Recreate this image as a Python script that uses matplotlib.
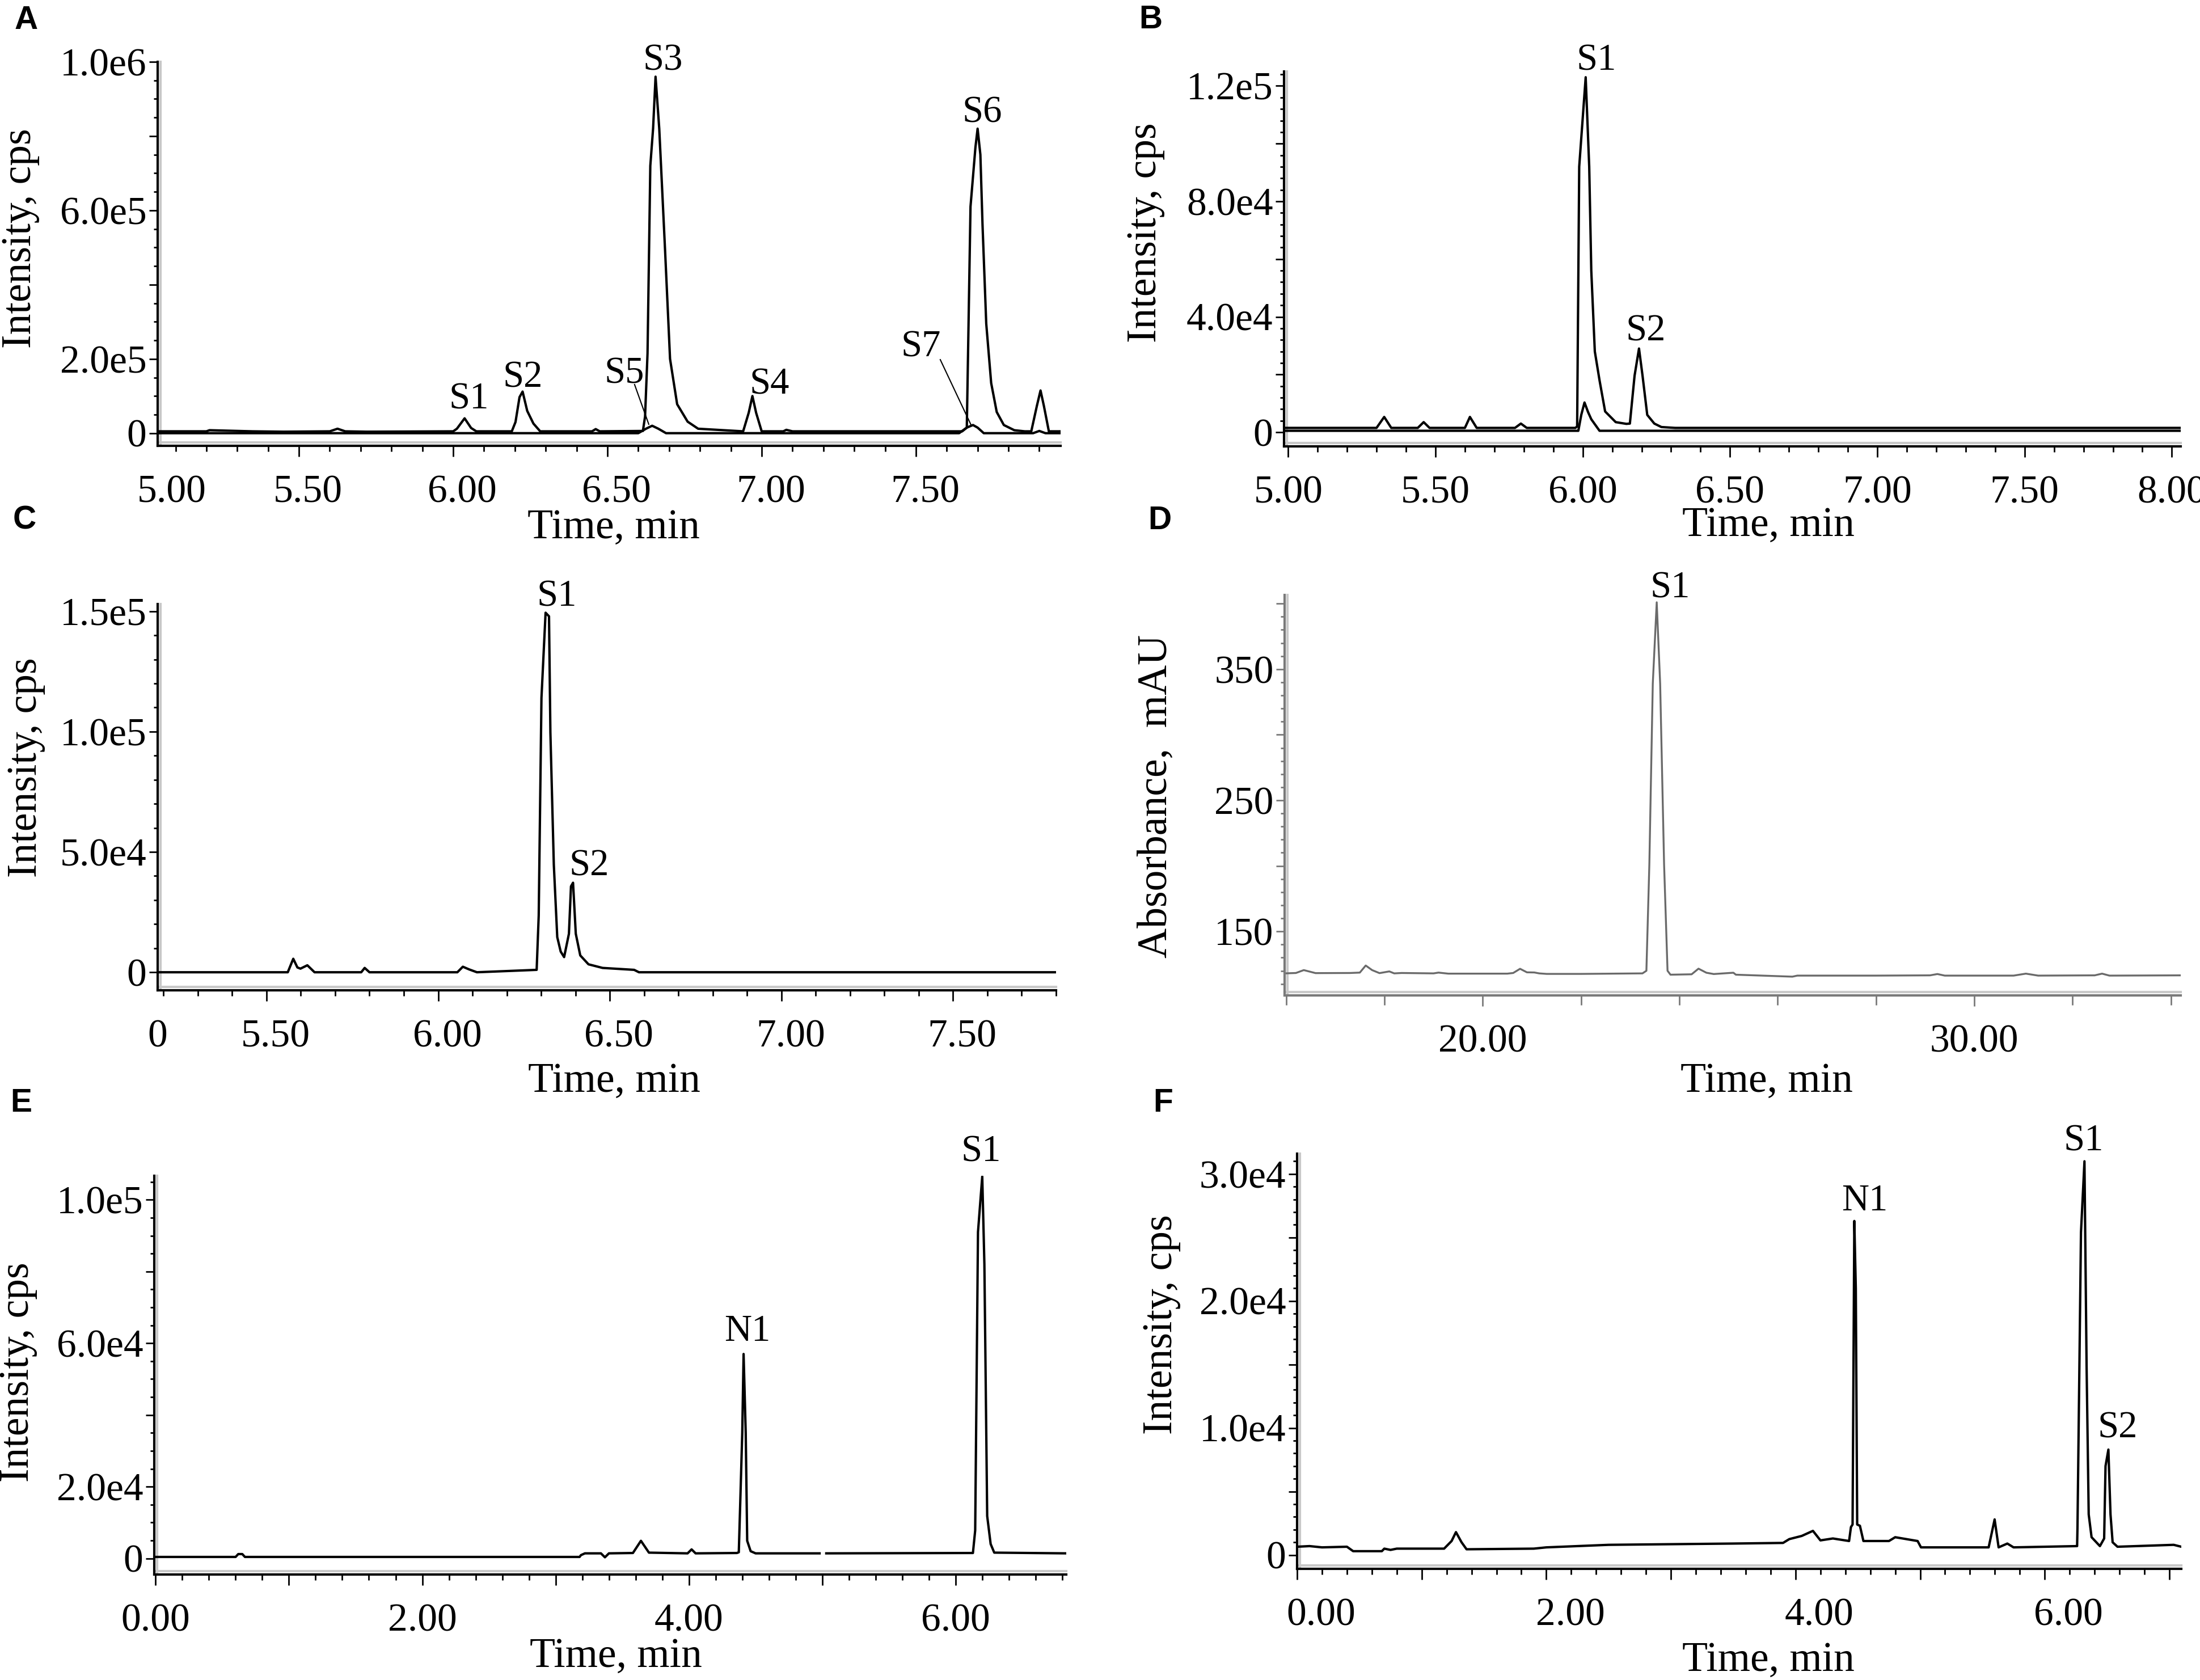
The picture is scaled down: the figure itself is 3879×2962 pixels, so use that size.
import numpy as np
import matplotlib
matplotlib.use("Agg")
import matplotlib.pyplot as plt
import matplotlib.transforms as transforms

plt.rcParams['font.family'] = ['Liberation Serif', 'DejaVu Serif']

# ---- panel A: MRM traces, 5.0-8.0 min ----
a_time = [5.042, 5.20, 5.21, 5.35, 5.45, 5.60, 5.625, 5.65, 5.72, 6.00, 6.012, 6.037, 6.058, 6.075,
          6.19, 6.202, 6.215, 6.225, 6.24, 6.26, 6.282, 6.45, 6.462, 6.475, 6.615, 6.622, 6.63,
          6.639, 6.648, 6.656, 6.668, 6.687, 6.703, 6.726, 6.76, 6.794, 6.94, 6.958, 6.97, 6.982,
          7.0, 7.07, 7.08, 7.10, 7.65, 7.665, 7.677, 7.693, 7.70, 7.709, 7.716, 7.728, 7.744,
          7.762, 7.785, 7.819, 7.853, 7.874, 7.892, 7.904, 7.915, 7.931, 7.969]
a_int = [5e3, 5e3, 8e3, 5e3, 4e3, 5e3, 12e3, 5e3, 4e3, 5e3, 12e3, 40e3, 14e3, 5e3,
         5e3, 30e3, 97e3, 112e3, 60e3, 26e3, 5e3, 5e3, 11e3, 5e3, 6e3, 45e3, 215e3,
         720e3, 820e3, 960e3, 820e3, 490e3, 200e3, 78e3, 31e3, 12e3, 5e3, 55e3, 100e3, 55e3,
         5e3, 5e3, 9e3, 5e3, 5e3, 15e3, 610e3, 770e3, 820e3, 750e3, 560e3, 295e3, 135e3,
         57e3, 22e3, 8e3, 5e3, 5e3, 73e3, 115e3, 73e3, 5e3, 5e3]
a2_time = [5.042, 6.60, 6.625, 6.645, 6.665, 6.69, 7.64, 7.665, 7.685, 7.70, 7.72, 7.88, 7.90, 7.92, 7.969]
a2_int = [0, 0, 12e3, 20e3, 12e3, 0, 0, 15e3, 22e3, 15e3, 0, 0, 6e3, 0, 0]

# ---- panel B ----
b_time = [4.986, 5.30, 5.326, 5.35, 5.44, 5.46, 5.48, 5.60, 5.617, 5.64, 5.77, 5.79, 5.81,
          5.975, 5.981, 5.988, 6.01, 6.022, 6.029, 6.041, 6.057, 6.076, 6.112, 6.148, 6.160,
          6.176, 6.191, 6.203, 6.219, 6.243, 6.267, 6.314, 8.03]
b_int = [1500, 1500, 5300, 1500, 1500, 3500, 1500, 1500, 5300, 1500, 1500, 3000, 1500,
         1500, 2000, 92000, 123000, 92000, 56000, 28000, 18000, 7200, 3500, 2900, 3000,
         19600, 29000, 19600, 6000, 3000, 1800, 1500, 1500]
b2_time = [4.986, 5.985, 5.995, 6.006, 6.018, 6.029, 6.057, 8.03]
b2_int = [500, 500, 6000, 10300, 7000, 4500, 500, 500]

# ---- panel C ----
c_time = [5.183, 5.562, 5.578, 5.59, 5.599, 5.619, 5.64, 5.776, 5.786, 5.80, 6.056, 6.072, 6.09,
          6.113, 6.287, 6.293, 6.301, 6.313, 6.323, 6.327, 6.337, 6.347, 6.357, 6.367, 6.381,
          6.387, 6.393, 6.401, 6.414, 6.438, 6.479, 6.571, 6.585, 7.80]
c_int = [0, 0, 5600, 2000, 1500, 2900, 0, 0, 1800, 0, 0, 2300, 1200,
         0, 1000, 23600, 114000, 149400, 147900, 99700, 44700, 14600, 8600, 6300, 16000,
         35700, 37200, 16000, 7000, 3300, 1800, 1000, 0, 0]

# ---- panel D: UV trace ----
d_time = [15.97, 16.2, 16.36, 16.6, 17.3, 17.5, 17.62, 17.75, 17.9, 18.1, 18.2, 18.35, 19.0,
          19.1, 19.3, 20.5, 20.62, 20.76, 20.9, 21.05, 21.15, 21.3, 22.0, 23.25, 23.33, 23.39,
          23.46, 23.54, 23.61, 23.69, 23.76, 23.82, 24.25, 24.39, 24.55, 24.7, 25.1, 25.15,
          26.3, 26.4, 28.0, 29.1, 29.25, 29.4, 30.8, 31.05, 31.3, 32.45, 32.6, 32.75, 34.2]
d_abs = [118.0, 118.3, 120.5, 118.2, 118.3, 118.6, 124.0, 120.5, 118.2, 119.5, 118.0, 118.3, 118.0,
         118.6, 117.8, 117.8, 118.3, 121.5, 118.8, 118.7, 118.0, 117.6, 117.6, 118.0, 120.0, 201.0,
         339.0, 401.0, 339.0, 201.0, 120.0, 117.0, 117.3, 121.6, 118.5, 117.5, 118.5, 117.0,
         115.5, 116.3, 116.3, 116.5, 117.5, 116.3, 116.3, 117.8, 116.3, 116.5, 117.8, 116.3, 116.5]

# ---- panel E ----
e_time = [-0.01, 0.60, 0.62, 0.65, 0.67, 3.18, 3.19, 3.22, 3.34, 3.37, 3.40, 3.58, 3.64, 3.70,
          3.99, 4.02, 4.05, 4.36, 4.374, 4.384, 4.40, 4.41, 4.426, 4.437, 4.463, 4.50, 4.98,
          np.nan, 5.03, 6.13, 6.147, 6.168, 6.20, 6.216, 6.237, 6.263, 6.29, 6.83]
e_int = [400, 400, 1200, 1200, 400, 400, 900, 1400, 1400, 300, 1400, 1500, 4900, 1600,
         1400, 2500, 1400, 1500, 1700, 14400, 35000, 57000, 35000, 4900, 2000, 1400, 1400,
         np.nan, 1400, 1500, 7800, 91000, 106500, 82000, 11800, 4000, 1600, 1400]

# ---- panel F ----
f_time = [0.0, 0.1, 0.2, 0.40, 0.45, 0.68, 0.70, 0.75, 0.80, 1.18, 1.24, 1.275, 1.32, 1.36,
          1.9, 2.0, 2.5, 3.0, 3.5, 3.9, 3.95, 4.05, 4.14, 4.2, 4.30, 4.43, 4.445, 4.458, 4.472,
          4.484, 4.495, 4.517, 4.545, 4.75, 4.80, 4.98, 5.007, 5.55, 5.598, 5.63, 5.70, 5.75,
          6.26, 6.263, 6.291, 6.319, 6.336, 6.353, 6.376, 6.443, 6.477, 6.488, 6.511, 6.528,
          6.545, 6.584, 7.035, 7.096]
f_int = [650, 700, 600, 650, 300, 300, 500, 400, 500, 500, 1100, 1800, 1000, 450,
         500, 600, 800, 850, 900, 950, 1250, 1500, 1900, 1150, 1300, 1100, 2200, 2400, 26300,
         21000, 2400, 2300, 1100, 1100, 1400, 1100, 600, 600, 2800, 600, 900, 600,
         700, 2200, 25400, 31000, 14900, 3200, 1400, 700, 1300, 7000, 8300, 3200,
         1000, 650, 800, 650]

# peak names with (time, value) of the label centre
a_labels = [("S1", 6.050, 92e3), ("S2", 6.226, 150e3), ("S5", 6.555, 160e3), ("S3", 6.680, 1.003e6),
            ("S4", 7.026, 131e3), ("S7", 7.517, 232e3), ("S6", 7.715, 863e3)]
a_leaders = [((6.588, 131e3), (6.634, 24e3)), ((7.579, 198e3), (7.680, 20e3))]
b_labels = [("S1", 6.046, 128.7e3), ("S2", 6.214, 35e3)]
c_labels = [("S1", 6.345, 156e3), ("S2", 6.44, 44e3)]
d_labels = [("S1", 23.81, 412)]
e_labels = [("N1", 4.437, 63.3e3), ("S1", 6.19, 113.3e3)]
f_labels = [("N1", 4.556, 27.85e3), ("S1", 6.313, 32.6e3), ("S2", 6.586, 10.0e3)]

W, H = 3880, 2962
fig = plt.figure(figsize=(W / 100, H / 100), dpi=100)


def make_axes(left, right, top, bottom):
    return fig.add_axes([left / W, 1 - bottom / H, (right - left) / W, (bottom - top) / H])


def style(ax, xlim, ylim, xmaj, xlab, xmin, ymaj, ylab, ymin, ylabel, lx, ly, tx, ty, col='black'):
    ax.set_xticks(xmaj, labels=xlab)
    ax.set_xticks(xmin, minor=True)
    ax.set_yticks(ymaj, labels=ylab)
    ax.set_yticks(ymin, minor=True)
    ax.set_xlim(*xlim)
    ax.set_ylim(*ylim)
    for s in ['top', 'right']:
        ax.spines[s].set_visible(False)
    for s in ['left', 'bottom']:
        ax.spines[s].set_linewidth(3)
        ax.spines[s].set_color(col)
    ax.tick_params(axis='x', which='major', length=14, width=2, pad=23, labelsize=50, color=col)
    ax.tick_params(axis='x', which='minor', length=7, width=2, color=col)
    ax.tick_params(axis='y', which='major', length=11, width=2, pad=3, labelsize=50, color=col)
    ax.tick_params(axis='y', which='minor', length=5, width=2, color=col)
    ax.set_ylabel(ylabel, fontsize=53, va='center')
    ax.yaxis.set_label_coords(lx, ly)
    ax.set_xlabel("Time, min", fontsize=53, va='center')
    ax.xaxis.set_label_coords(tx, ty)
    # light grey shadow lines along the axes
    up = transforms.ScaledTranslation(0, 0.06, fig.dpi_scale_trans)
    ax.plot([0, 1], [0, 0], color='#c8c8c8', lw=3, transform=ax.transAxes + up, clip_on=False, zorder=1)
    right = transforms.ScaledTranslation(0.05, 0, fig.dpi_scale_trans)
    ax.plot([0, 0], [0, 1], color='#c8c8c8', lw=3, transform=ax.transAxes + right, clip_on=False, zorder=1)


def shift_xlabels(ax, px):
    off = transforms.ScaledTranslation(px / 100, 0, fig.dpi_scale_trans)
    for lab in ax.get_xticklabels():
        lab.set_transform(lab.get_transform() + off)


def peak_labels(ax, labels):
    for name, x, y in labels:
        ax.text(x, y, name, fontsize=48, ha='center', va='center', clip_on=False)


def edge_label(ax, text, px):
    ax.annotate(text, xy=(0, 0), xycoords='axes fraction', xytext=(px * 0.72, -37),
                textcoords='offset points', ha='center', va='top', fontsize=50)


LW = 3.0

# A
axA = make_axes(278, 1870, 109, 786)
axA.plot(a2_time, a2_int, color='black', lw=LW)
axA.plot(a_time, a_int, color='black', lw=LW)
style(axA, (5.042, 7.969), (-34e3, 1.0e6),
      np.arange(5.5, 7.6, 0.5), ['5.50', '6.00', '6.50', '7.00', '7.50'], np.arange(5.1, 8.0, 0.1),
      np.arange(0, 1.01e6, 2e5), ['0', '2.0e5', '', '6.0e5', '', '1.0e6'], np.arange(0, 1.01e6, 5e4),
      "Intensity, cps", -0.152, 0.541, 0.505, -0.214)
shift_xlabels(axA, 16)
edge_label(axA, '5.00', 25)
peak_labels(axA, a_labels)
for p0, p1 in a_leaders:
    axA.plot([p0[0], p1[0]], [p0[1], p1[1]], color='black', lw=1.5)

# B
axB = make_axes(2264, 3845, 126, 787)
axB.plot(b2_time, b2_int, color='black', lw=LW)
axB.plot(b_time, b_int, color='black', lw=LW)
style(axB, (4.986, 8.03), (-4.9e3, 1.25e5),
      np.arange(5.0, 8.1, 0.5), ['5.00', '5.50', '6.00', '6.50', '7.00', '7.50', '8.00'],
      np.arange(5.0, 8.05, 0.1),
      np.arange(0, 1.21e5, 2e4), ['0', '', '4.0e4', '', '8.0e4', '', '1.2e5'], np.arange(0, 1.25e5, 4e3),
      "Intensity, cps", -0.154, 0.570, 0.540, -0.212)
peak_labels(axB, b_labels)

# C
axC = make_axes(278, 1862, 1065, 1746)
axC.plot(c_time, c_int, color='black', lw=LW)
style(axC, (5.183, 7.80), (-7.5e3, 1.53e5),
      np.arange(5.5, 7.6, 0.5), ['5.50', '6.00', '6.50', '7.00', '7.50'], np.arange(5.2, 7.85, 0.1),
      np.arange(0, 1.51e5, 5e4), ['0', '5.0e4', '1.0e5', '1.5e5'], np.arange(0, 1.53e5, 1e4),
      "Intensity, cps", -0.146, 0.577, 0.508, -0.236)
shift_xlabels(axC, 16)
edge_label(axC, '0', 0)
peak_labels(axC, c_labels)

# D
axD = make_axes(2265, 3845, 1049, 1755)
axD.plot(d_time, d_abs, color='#6a6a6a', lw=2.4)
style(axD, (15.97, 34.2), (101.2, 406.6),
      [20, 30], ['20.00', '30.00'], np.arange(16, 35, 2),
      np.arange(150, 401, 50), ['150', '', '250', '', '350', ''], np.arange(110, 406, 10),
      "Absorbance,  mAU", -0.143, 0.497, 0.538, -0.215, col='#7a7a7a')
axD.tick_params(axis='x', which='minor', length=12)
peak_labels(axD, d_labels)

# E
axE = make_axes(272, 1880, 2073, 2776)
axE.plot(e_time, e_int, color='black', lw=LW)
style(axE, (-0.01, 6.83), (-4.5e3, 1.067e5),
      np.arange(0, 7, 1.0), ['0.00', '', '2.00', '', '4.00', '', '6.00'], np.arange(0, 6.85, 0.2),
      np.arange(0, 1.01e5, 2e4), ['0', '2.0e4', '', '6.0e4', '', '1.0e5'], np.arange(0, 1.06e5, 5e3),
      "Intensity, cps", -0.149, 0.508, 0.506, -0.206)
peak_labels(axE, e_labels)

# F
axF = make_axes(2287, 3846, 2034, 2766)
axF.plot(f_time, f_int, color='black', lw=LW)
style(axF, (0.0, 7.096), (-1.09e3, 3.16e4),
      np.arange(0, 7.05, 1.0), ['0.00', '', '2.00', '', '4.00', '', '6.00', ''], np.arange(0, 7.1, 0.2),
      np.arange(0, 3.01e4, 5e3), ['0', '', '1.0e4', '', '2.0e4', '', '3.0e4'], np.arange(0, 3.15e4, 1e3),
      "Intensity, cps", -0.153, 0.589, 0.533, -0.221)
shift_xlabels(axF, 42)
peak_labels(axF, f_labels)

# panel letters
for letter, x, y in [("A", 46, 36), ("B", 2029, 35), ("C", 43, 918),
                     ("D", 2045, 918), ("E", 37, 1945), ("F", 2051, 1945)]:
    fig.text(x / W, 1 - y / H, letter, fontsize=41, fontweight='bold',
             family=['Liberation Sans', 'DejaVu Sans'], ha='center', va='center')

fig.savefig("out.png", dpi=100, facecolor='white')
